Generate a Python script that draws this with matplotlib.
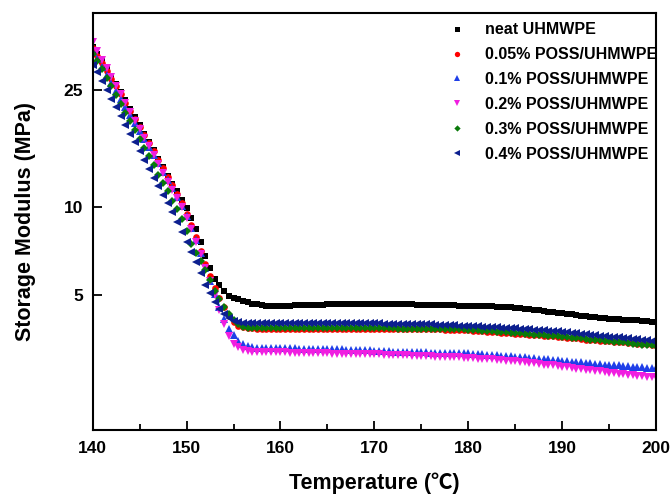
import numpy as np
import matplotlib
matplotlib.use("Agg")
import matplotlib.pyplot as plt
from matplotlib.ticker import FixedLocator, FixedFormatter, NullLocator, MultipleLocator

matplotlib.rcParams['font.family'] = ['Liberation Sans', 'Noto Sans CJK SC', 'DejaVu Sans']
matplotlib.rcParams['font.weight'] = 'bold'

# temperature grid of the DMA scan (degC)
temperature = np.arange(140, 200.25, 0.5)

neat = [35.2, 33.3, 31.5, 29.7, 28.0, 26.3, 24.6, 23.1, 21.6, 20.3,
        19.0, 17.8, 16.7, 15.6, 14.6, 13.7, 12.8, 12.0, 11.3, 10.6,
        9.9, 9.2, 8.4, 7.6, 6.8, 6.2, 5.7, 5.4, 5.15, 4.98,
        4.90, 4.85, 4.78, 4.73, 4.68, 4.65, 4.62, 4.61, 4.60, 4.60,
        4.60, 4.61, 4.61, 4.62, 4.62, 4.63, 4.63, 4.64, 4.64, 4.64,
        4.65, 4.65, 4.65, 4.65, 4.66, 4.66, 4.66, 4.66, 4.66, 4.66,
        4.66, 4.66, 4.66, 4.66, 4.66, 4.65, 4.65, 4.65, 4.65, 4.64,
        4.64, 4.64, 4.63, 4.63, 4.63, 4.62, 4.62, 4.62, 4.61, 4.61,
        4.61, 4.60, 4.60, 4.59, 4.58, 4.58, 4.57, 4.56, 4.56, 4.55,
        4.53, 4.52, 4.50, 4.48, 4.46, 4.44, 4.42, 4.40, 4.38, 4.36,
        4.34, 4.32, 4.30, 4.28, 4.26, 4.24, 4.22, 4.20, 4.19, 4.17,
        4.16, 4.15, 4.14, 4.13, 4.12, 4.11, 4.10, 4.08, 4.07, 4.06,
        4.05]

poss_005 = [34.8, 32.8, 30.9, 29.1, 27.4, 25.8, 24.2, 22.7, 21.3, 20.0,
            18.8, 17.6, 16.5, 15.5, 14.5, 13.6, 12.7, 11.9, 11.1, 10.3,
            9.5, 8.7, 7.9, 7.1, 6.4, 5.8, 5.3, 4.9, 4.55, 4.25,
            4.05, 3.94, 3.89, 3.87, 3.86, 3.85, 3.85, 3.85, 3.85, 3.85,
            3.85, 3.85, 3.85, 3.85, 3.85, 3.85, 3.85, 3.85, 3.85, 3.85,
            3.85, 3.85, 3.85, 3.85, 3.85, 3.85, 3.85, 3.85, 3.85, 3.85,
            3.85, 3.85, 3.85, 3.85, 3.85, 3.84, 3.84, 3.84, 3.84, 3.84,
            3.84, 3.84, 3.83, 3.83, 3.83, 3.82, 3.82, 3.81, 3.81, 3.80,
            3.80, 3.79, 3.78, 3.77, 3.76, 3.75, 3.74, 3.73, 3.72, 3.71,
            3.70, 3.69, 3.68, 3.67, 3.66, 3.65, 3.64, 3.63, 3.62, 3.61,
            3.60, 3.58, 3.57, 3.56, 3.54, 3.53, 3.52, 3.51, 3.50, 3.49,
            3.48, 3.47, 3.46, 3.45, 3.44, 3.43, 3.42, 3.41, 3.40, 3.39,
            3.38]

poss_01 = [33.8, 31.9, 30.0, 28.2, 26.5, 24.9, 23.4, 22.0, 20.6, 19.4,
           18.2, 17.1, 16.0, 15.0, 14.1, 13.2, 12.4, 11.6, 10.8, 10.1,
           9.3, 8.5, 7.7, 6.95, 6.2, 5.6, 5.05, 4.55, 4.15, 3.85,
           3.65, 3.50, 3.40, 3.35, 3.32, 3.31, 3.30, 3.30, 3.30, 3.30,
           3.30, 3.30, 3.30, 3.30, 3.29, 3.29, 3.29, 3.28, 3.28, 3.28,
           3.28, 3.28, 3.27, 3.27, 3.26, 3.26, 3.25, 3.25, 3.24, 3.24,
           3.23, 3.23, 3.22, 3.22, 3.21, 3.21, 3.21, 3.20, 3.20, 3.19,
           3.19, 3.19, 3.18, 3.18, 3.18, 3.18, 3.17, 3.17, 3.17, 3.17,
           3.17, 3.16, 3.15, 3.14, 3.13, 3.13, 3.12, 3.11, 3.10, 3.10,
           3.09, 3.08, 3.07, 3.06, 3.05, 3.04, 3.03, 3.02, 3.01, 3.00,
           2.99, 2.98, 2.97, 2.96, 2.95, 2.94, 2.93, 2.92, 2.91, 2.90,
           2.89, 2.88, 2.88, 2.87, 2.86, 2.85, 2.85, 2.84, 2.83, 2.83,
           2.82]

poss_02 = [36.5, 34.1, 31.8, 29.7, 27.8, 25.9, 24.2, 22.6, 21.1, 19.7,
           18.4, 17.2, 16.1, 15.0, 14.0, 13.1, 12.2, 11.4, 10.7, 10.0,
           9.2, 8.4, 7.6, 6.9, 6.2, 5.6, 5.0, 4.45, 4.0, 3.62,
           3.42, 3.32, 3.26, 3.22, 3.20, 3.19, 3.19, 3.19, 3.19, 3.19,
           3.19, 3.19, 3.18, 3.18, 3.18, 3.18, 3.18, 3.17, 3.17, 3.17,
           3.17, 3.16, 3.16, 3.16, 3.16, 3.15, 3.15, 3.15, 3.14, 3.14,
           3.14, 3.14, 3.13, 3.13, 3.13, 3.12, 3.12, 3.12, 3.11, 3.11,
           3.11, 3.10, 3.10, 3.09, 3.09, 3.08, 3.08, 3.07, 3.07, 3.06,
           3.06, 3.05, 3.04, 3.03, 3.03, 3.02, 3.01, 3.00, 2.99, 2.98,
           2.98, 2.96, 2.95, 2.94, 2.93, 2.91, 2.90, 2.89, 2.88, 2.86,
           2.85, 2.84, 2.82, 2.81, 2.80, 2.78, 2.77, 2.76, 2.75, 2.74,
           2.72, 2.71, 2.70, 2.69, 2.68, 2.67, 2.66, 2.65, 2.64, 2.64,
           2.63]

poss_03 = [33.3, 31.6, 29.6, 27.6, 25.8, 24.1, 22.5, 21.0, 19.6, 18.3,
           17.1, 15.9, 14.9, 13.9, 12.9, 12.1, 11.3, 10.5, 9.85, 9.1,
           8.3, 7.5, 6.95, 6.55, 6.1, 5.65, 5.18, 4.86, 4.55, 4.3,
           4.12, 3.98, 3.91, 3.88, 3.87, 3.86, 3.86, 3.86, 3.86, 3.86,
           3.86, 3.86, 3.86, 3.86, 3.86, 3.86, 3.86, 3.86, 3.86, 3.86,
           3.86, 3.86, 3.86, 3.86, 3.86, 3.86, 3.86, 3.86, 3.86, 3.86,
           3.86, 3.86, 3.86, 3.86, 3.86, 3.85, 3.85, 3.85, 3.85, 3.85,
           3.85, 3.85, 3.84, 3.84, 3.84, 3.84, 3.83, 3.83, 3.83, 3.83,
           3.82, 3.81, 3.80, 3.79, 3.78, 3.77, 3.76, 3.75, 3.74, 3.73,
           3.72, 3.71, 3.70, 3.69, 3.67, 3.66, 3.65, 3.64, 3.63, 3.62,
           3.61, 3.60, 3.58, 3.57, 3.56, 3.54, 3.53, 3.52, 3.51, 3.50,
           3.49, 3.47, 3.46, 3.45, 3.43, 3.42, 3.41, 3.39, 3.38, 3.37,
           3.36]

poss_04 = [30.5, 28.8, 26.9, 25.1, 23.4, 21.9, 20.4, 19.1, 17.8, 16.6,
           15.5, 14.5, 13.5, 12.6, 11.8, 11.0, 10.3, 9.6, 8.9, 8.2,
           7.6, 7.0, 6.5, 5.95, 5.4, 5.1, 4.75, 4.5, 4.3, 4.17,
           4.09, 4.05, 4.03, 4.02, 4.01, 4.01, 4.01, 4.01, 4.01, 4.01,
           4.01, 4.01, 4.01, 4.01, 4.01, 4.01, 4.01, 4.01, 4.01, 4.01,
           4.01, 4.01, 4.01, 4.01, 4.01, 4.01, 4.01, 4.01, 4.01, 4.01,
           4.01, 4.01, 4.00, 4.00, 4.00, 4.00, 4.00, 3.99, 3.99, 3.99,
           3.99, 3.98, 3.98, 3.97, 3.97, 3.96, 3.96, 3.95, 3.94, 3.94,
           3.93, 3.92, 3.92, 3.91, 3.90, 3.90, 3.89, 3.88, 3.88, 3.87,
           3.86, 3.85, 3.84, 3.83, 3.82, 3.81, 3.80, 3.79, 3.78, 3.77,
           3.76, 3.74, 3.73, 3.71, 3.70, 3.68, 3.67, 3.65, 3.64, 3.62,
           3.61, 3.60, 3.59, 3.57, 3.56, 3.55, 3.54, 3.52, 3.51, 3.50,
           3.49]

labels = ['neat UHMWPE', '0.05% POSS/UHMWPE', '0.1% POSS/UHMWPE',
          '0.2% POSS/UHMWPE', '0.3% POSS/UHMWPE', '0.4% POSS/UHMWPE']
y_ticks = [5, 10, 25]
x_ticks = [140, 150, 160, 170, 180, 190, 200]

series = [neat, poss_005, poss_01, poss_02, poss_03, poss_04]
styles = [('s', '#000000', 4.5), ('o', '#ff0000', 4.8), ('^', '#1f3fe8', 5.2),
          ('v', '#f01ee0', 5.2), ('D', '#0a7a0a', 4.0), ('<', '#0c1f8f', 5.2)]

fig = plt.figure(figsize=(6.71, 4.94), dpi=100)
ax = fig.add_axes([0.138, 0.1296, 0.840, 0.8441])

for vals, (mk, col, ms), lab in zip(series, styles, labels):
    ax.plot(temperature, vals, linestyle='none', marker=mk, color=col,
            markersize=ms, markeredgewidth=0, label=lab)

ax.set_yscale('log')
ax.set_xlim(140, 200)
ax.set_ylim(1.735, 45.9)
ax.yaxis.set_major_locator(FixedLocator(y_ticks))
ax.yaxis.set_major_formatter(FixedFormatter([str(v) for v in y_ticks]))
ax.yaxis.set_minor_locator(NullLocator())
ax.xaxis.set_major_locator(FixedLocator(x_ticks))
ax.xaxis.set_minor_locator(MultipleLocator(5))

ax.tick_params(axis='both', which='major', direction='in', length=6.5, width=1.3,
               labelsize=12.5, pad=7)
ax.tick_params(axis='x', which='minor', direction='in', length=4.3, width=1.3)
ax.tick_params(axis='x', which='major', pad=8)
for lab in ax.get_xticklabels() + ax.get_yticklabels():
    lab.set_fontweight('bold')
for sp in ax.spines.values():
    sp.set_linewidth(1.5)

ax.set_xlabel('Temperature (\u2103)', fontsize=15.5, fontweight='bold', labelpad=12)
ax.set_ylabel('Storage Modulus (MPa)', fontsize=15.5, fontweight='bold', labelpad=20)

ax.legend(loc='upper left', bbox_to_anchor=(0.618, 0.997), frameon=False,
          handlelength=1.0, handletextpad=1.27, borderpad=0,
          labelspacing=0.62, markerscale=0.8, prop={'weight': 'bold', 'size': 11.5})

fig.savefig('out.png', dpi=100)
